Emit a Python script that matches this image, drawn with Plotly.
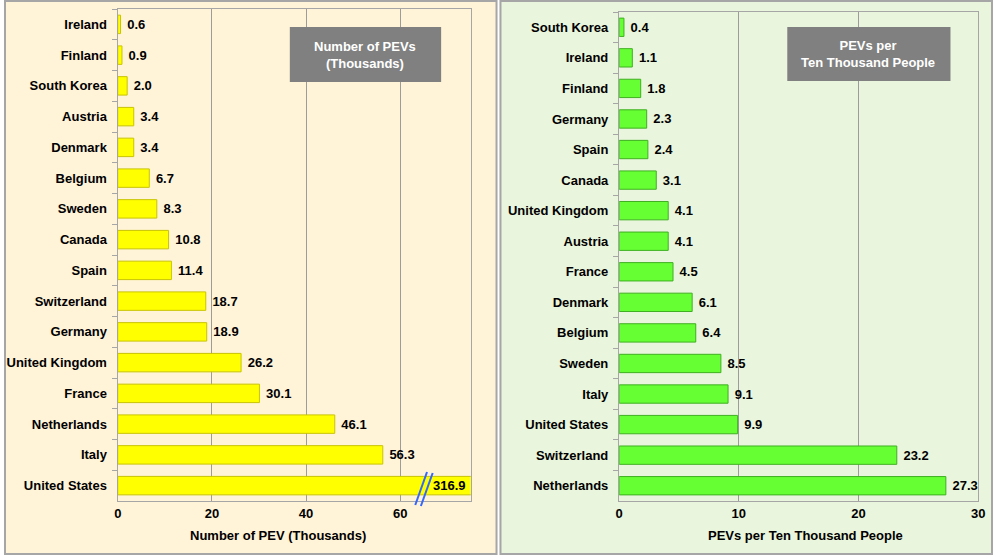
import plotly.graph_objects as go

# left panel: number of PEVs (thousands)
countries_num = ["Ireland", "Finland", "South Korea", "Austria", "Denmark", "Belgium",
                 "Sweden", "Canada", "Spain", "Switzerland", "Germany", "United Kingdom",
                 "France", "Netherlands", "Italy", "United States"]
pev_thousands = [0.6, 0.9, 2.0, 3.4, 3.4, 6.7, 8.3, 10.8, 11.4, 18.7, 18.9, 26.2,
                 30.1, 46.1, 56.3, 316.9]

# right panel: PEVs per ten thousand people
countries_rate = ["South Korea", "Ireland", "Finland", "Germany", "Spain", "Canada",
                  "United Kingdom", "Austria", "France", "Denmark", "Belgium", "Sweden",
                  "Italy", "United States", "Switzerland", "Netherlands"]
pev_per_10k = [0.4, 1.1, 1.8, 2.3, 2.4, 3.1, 4.1, 4.1, 4.5, 6.1, 6.4, 8.5,
               9.1, 9.9, 23.2, 27.3]

left_max = 75
font = dict(family="Arial, Liberation Sans, sans-serif", size=13, color="black", weight="bold")

W, H = 1000, 555


def px(x):
    return x / W


def py(y):
    return (H - y) / H


fig = go.Figure()

# the US value is off the axis, its label is an annotation further down
left_text = ["\u00a0" + f"{v:.1f}" if v <= left_max else "" for v in pev_thousands]
fig.add_trace(go.Bar(
    x=pev_thousands, y=countries_num, orientation="h",
    marker=dict(color="#FFFF00", line=dict(color="#C9C400", width=1)),
    width=0.6, text=left_text, textposition="outside", cliponaxis=True,
    textfont=font, xaxis="x", yaxis="y", hoverinfo="x+y",
))
fig.add_trace(go.Bar(
    x=pev_per_10k, y=countries_rate, orientation="h",
    marker=dict(color="#66FF33", line=dict(color="#3FB021", width=1)),
    width=0.6, texttemplate="\u00a0%{x:.1f}", textposition="outside",
    textfont=font, xaxis="x2", yaxis="y2", hoverinfo="x+y",
))

shapes = [
    dict(type="rect", xref="paper", yref="paper", x0=px(1), x1=px(498), y0=py(554), y1=py(1),
         fillcolor="#FFF3D8", line=dict(color="#A6A6A6", width=2), layer="below"),
    dict(type="rect", xref="paper", yref="paper", x0=px(502), x1=px(999), y0=py(554), y1=py(1),
         fillcolor="#E9F5DC", line=dict(color="#A6A6A6", width=2), layer="below"),
    dict(type="rect", xref="paper", yref="paper", x0=px(289), x1=px(442), y0=py(82), y1=py(27),
         fillcolor="#808080", line=dict(width=0)),
    dict(type="rect", xref="paper", yref="paper", x0=px(792), x1=px(957), y0=py(81), y1=py(27),
         fillcolor="#808080", line=dict(width=0)),
    # axis break marks on the United States bar
    dict(type="line", xref="x", yref="paper", x0=63.2, x1=65.7, y0=py(505), y1=py(472),
         line=dict(color="#3366FF", width=2)),
    dict(type="line", xref="x", yref="paper", x0=64.4, x1=66.9, y0=py(506), y1=py(473),
         line=dict(color="#3366FF", width=2)),
]

box_font = dict(family="Arial, Liberation Sans, sans-serif", size=13, color="white", weight="bold")
centered = dict(xanchor="center", yanchor="middle", showarrow=False)
annotations = [
    dict(text="Number of PEVs<br>(Thousands)", xref="paper", yref="paper",
         x=px(365), y=py(55), font=box_font, **centered),
    dict(text="PEVs per<br>Ten Thousand People", xref="paper", yref="paper",
         x=px(874), y=py(54), font=box_font, **centered),
    dict(text=f"{pev_thousands[-1]:.1f}", xref="x", yref="y", x=left_max, y=countries_num[-1],
         xanchor="right", yanchor="middle", xshift=-3, showarrow=False, font=font),
    dict(text="Number of PEV (Thousands)", xref="paper", yref="paper",
         x=px(277), y=py(535), font=font, **centered),
    dict(text="PEVs per Ten Thousand People", xref="paper", yref="paper",
         x=px(810), y=py(535), font=font, **centered),
]

xcommon = dict(showgrid=True, gridcolor="#9C9C9C", gridwidth=1, zeroline=False,
               showline=True, linecolor="#A6A6A6", mirror=True, ticks="",
               tickfont=font, fixedrange=True)
ycommon = dict(type="category", autorange="reversed", showgrid=False, showline=True,
               linecolor="#A6A6A6", mirror=True, ticks="outside", tickson="boundaries",
               ticklen=5, tickcolor="#A6A6A6", tickfont=font, ticksuffix="  ",
               fixedrange=True)

fig.update_layout(
    width=W, height=H,
    margin=dict(l=0, r=0, t=0, b=0),
    paper_bgcolor="white",
    plot_bgcolor="#D9D9D9",
    showlegend=False,
    bargap=0.4,
    xaxis=dict(domain=[px(115), px(472)], range=[0, left_max], dtick=20, anchor="y", **xcommon),
    yaxis=dict(domain=[py(501), py(9)], anchor="x", categoryarray=countries_num, **ycommon),
    xaxis2=dict(domain=[px(622), px(985)], range=[0, 30], dtick=10, anchor="y2", **xcommon),
    yaxis2=dict(domain=[py(501), py(12)], anchor="x2", categoryarray=countries_rate, **ycommon),
    shapes=shapes,
    annotations=annotations,
)

fig.write_html("out.html", config={"displayModeBar": False},
               post_script="document.body.style.margin='0';document.body.style.overflow='hidden';")
